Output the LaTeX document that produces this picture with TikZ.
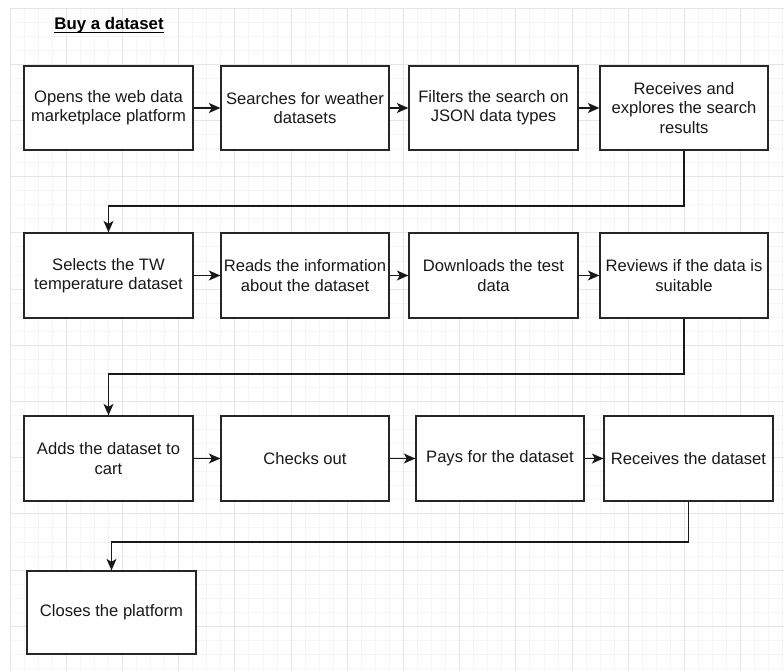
\documentclass[tikz,border=0pt]{standalone}
\usepackage{fontspec}
\setmainfont{Liberation Sans}
\usetikzlibrary{arrows.meta}

\tikzset{
  minorgrid/.style={draw=black!4, line width=0.8pt},
  majorgrid/.style={draw=black!10, line width=0.9pt},
  stepbox/.style={draw=black!85, fill=white, line width=1.3pt, rectangle,
    minimum width=169pt, minimum height=84pt, inner sep=0pt,
    align=center, font=\fontsize{16.6pt}{19.4pt}\selectfont, text=black!90},
  flow/.style={draw=black!90, line width=1.3pt,
    -{Stealth[length=11.5pt, width=10pt, inset=3pt]}},
}

\begin{document}
\begin{tikzpicture}[x=1pt, y=-1pt]
  \useasboundingbox[fill=white] (0,0) rectangle (784,671);

  % background grid: light lines every 14.05, stronger every fourth line
  \foreach \i in {0,...,55} {
    \draw[minorgrid] ({10+\i*14.05},8) -- ({10+\i*14.05},671);
  }
  \foreach \j in {0,...,47} {
    \draw[minorgrid] (10,{8+\j*14.05}) -- (784,{8+\j*14.05});
  }
  \foreach \i in {0,...,13} {
    \draw[majorgrid] ({10+\i*56.2},8) -- ({10+\i*56.2},671);
  }
  \foreach \j in {0,...,11} {
    \draw[majorgrid] (10,{8+\j*56.2}) -- (784,{8+\j*56.2});
  }

  % title
  \node[anchor=base, font=\fontsize{16.8pt}{19pt}\selectfont\bfseries, inner sep=0pt]
    (title) at (109,29.5) {Buy a dataset};
  \draw[line width=1pt] ([yshift=-2.6pt]title.base west) -- ([yshift=-2.6pt]title.base east);

  % row 1
  \node[stepbox] (b1) at (108.5,108) {Opens the web data\\marketplace platform};
  \node[stepbox, minimum width=168pt] (b2) at (305,108) {Searches for weather\\datasets};
  \node[stepbox] (b3) at (493.5,108) {Filters the search on\\JSON data types};
  \node[stepbox, minimum width=168pt] (b4) at (684,108) {Receives and\\explores the search\\results};

  % row 2
  \node[stepbox, minimum height=85pt] (b5) at (108.5,275.5) {Selects the TW\\temperature dataset};
  \node[stepbox, minimum width=168pt, minimum height=85pt] (b6) at (305,275.5) {Reads the information\\about the dataset};
  \node[stepbox, minimum height=85pt] (b7) at (493.5,275.5) {Downloads the test\\data};
  \node[stepbox, minimum width=168pt, minimum height=85pt] (b8) at (684,275.5) {Reviews if the data is\\suitable};

  % row 3
  \node[stepbox, minimum height=85pt] (b9) at (108.5,458.5) {Adds the dataset to\\cart};
  \node[stepbox, minimum width=168pt, minimum height=85pt] (b10) at (305,458.5) {Checks out};
  \node[stepbox, minimum width=168pt, minimum height=85pt] (b11) at (500,458.5) {Pays for the dataset};
  \node[stepbox, minimum height=85pt] (b12) at (688.5,458.5) {Receives the dataset};

  % row 4
  \node[stepbox, minimum height=83pt] (b13) at (111.5,612.5) {Closes the platform};

  % bend levels of the row-to-row connectors
  \coordinate (k1) at (0,206);
  \coordinate (k2) at (0,374);
  \coordinate (k3) at (0,542);

  % straight connectors
  \draw[flow] (b1) -- (b2);
  \draw[flow] (b2) -- (b3);
  \draw[flow] (b3) -- (b4);
  \draw[flow] (b5) -- (b6);
  \draw[flow] (b6) -- (b7);
  \draw[flow] (b7) -- (b8);
  \draw[flow] (b9) -- (b10);
  \draw[flow] (b10) -- (b11);
  \draw[flow] (b11) -- (b12);

  % elbow connectors between rows
  \draw[flow] (b4.south) -- (b4.south |- k1) -| (b5.north);
  \draw[flow] (b8.south) -- (b8.south |- k2) -| (b9.north);
  \draw[flow] (b12.south) -- (b12.south |- k3) -| (b13.north);
\end{tikzpicture}
\end{document}
